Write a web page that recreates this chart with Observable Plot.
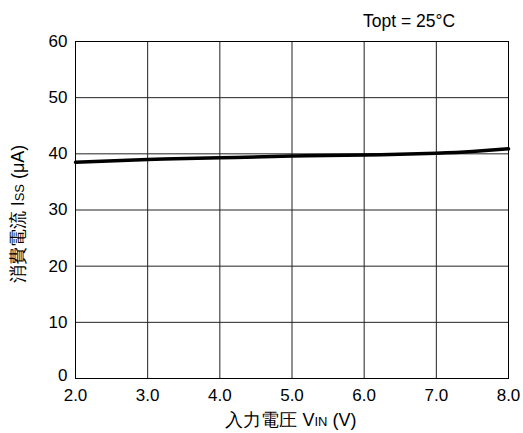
<!DOCTYPE html>
<html>
<head>
<meta charset="utf-8">
<script src="https://cdn.jsdelivr.net/npm/d3@7"></script>
<script src="https://cdn.jsdelivr.net/npm/@observablehq/plot@0.6"></script>
<style>
  html, body { margin: 0; padding: 0; background: white; }
</style>
</head>
<body>
<div id="chart"></div>
<script>
const vin = [2.0, 3.0, 4.0, 5.0, 6.0, 7.0, 7.5, 8.0];
const iss = [38.5, 39.0, 39.3, 39.6, 39.8, 40.1, 40.4, 40.9];
const xTicks = [2, 3, 4, 5, 6, 7, 8];
const yTicks = [0, 10, 20, 30, 40, 50, 60];
const data = vin.map((v, i) => ({ v, i: iss[i] }));

const font = "'Liberation Sans', Arial, sans-serif";

const chart = Plot.plot({
  width: 523,
  height: 433,
  marginLeft: 75,
  marginRight: 15,
  marginTop: 41,
  marginBottom: 55,
  style: { fontFamily: font, fontSize: "17px", color: "black", background: "white" },
  x: { domain: [2, 8] },
  y: { domain: [0, 60] },
  marks: [
    Plot.gridX(xTicks, { stroke: "#222", strokeOpacity: 1, strokeWidth: 1 }),
    Plot.gridY(yTicks, { stroke: "#222", strokeOpacity: 1, strokeWidth: 1 }),
    Plot.frame({ stroke: "black", strokeWidth: 1 }),
    Plot.axisX(xTicks, { tickSize: 0, tickPadding: 10, label: null, tickFormat: d => d.toFixed(1), fontSize: 17 }),
    Plot.axisY(yTicks.filter(d => d > 0), { tickSize: 0, tickPadding: 8, label: null, fontSize: 17 }),
    Plot.axisY([0], { tickSize: 0, tickPadding: 8, label: null, fontSize: 17, dy: -3 }),
    Plot.line(data, { x: "v", y: "i", stroke: "black", strokeWidth: 3.5, curve: "natural" })
  ]
});

const svg = d3.select(chart);
// Title
svg.append("text")
  .attr("x", 363).attr("y", 27)
  .attr("text-anchor", "start")
  .attr("font-family", font).attr("font-size", 17.5).attr("fill", "black")
  .text("Topt = 25°C");

// X label
const xl = svg.append("text")
  .attr("x", 291).attr("y", 426)
  .attr("text-anchor", "middle")
  .attr("font-family", font).attr("font-size", 18).attr("fill", "black");
xl.append("tspan").text("入力電圧 V");
xl.append("tspan").attr("font-size", 13).text("IN");
xl.append("tspan").text(" (V)");

// Y label
const yl = svg.append("text")
  .attr("transform", "translate(24,214) rotate(-90)")
  .attr("text-anchor", "middle")
  .attr("font-family", font).attr("font-size", 18).attr("fill", "black");
yl.append("tspan").text("消費電流 I");
yl.append("tspan").attr("font-size", 13).text("SS");
yl.append("tspan").text(" (μA)");

document.getElementById("chart").appendChild(chart);
</script>
</body>
</html>
